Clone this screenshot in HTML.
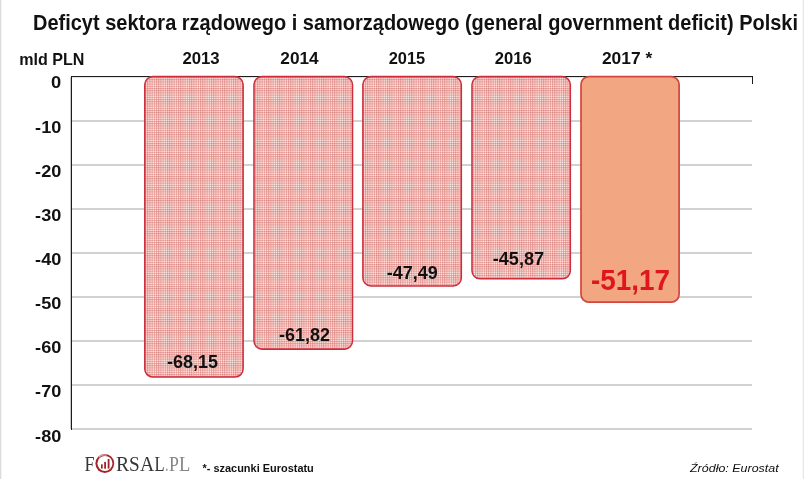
<!DOCTYPE html>
<html><head><meta charset="utf-8"><title>Deficyt</title><style>
html,body{margin:0;padding:0;background:#fff;}
body{width:805px;height:479px;overflow:hidden;}
svg{display:block;will-change:transform;}
text{font-family:"Liberation Sans",sans-serif;}
.serif{font-family:"Liberation Serif",serif;}
</style></head><body>
<svg width="805" height="479" viewBox="0 0 805 479">
<defs>
<pattern id="hatch" x="145" y="77" width="2.2" height="2.2" patternUnits="userSpaceOnUse">
<rect width="3" height="3" fill="#fff3ee"/>
<rect width="1.05" height="3" fill="#f0a5a0"/>
<rect width="3" height="1.05" fill="#f0a5a0"/>
<rect width="1.05" height="1.05" fill="#d68a87"/>
</pattern>
</defs>
<rect x="0" y="0" width="805" height="479" fill="#fff"/>
<rect x="0" y="0" width="1" height="479" fill="#dcdcdc"/>
<rect x="1" y="0" width="1" height="479" fill="#f3f3f3"/>
<rect x="803" y="0" width="1" height="479" fill="#e6e6e6"/>
<rect x="802" y="0" width="1" height="479" fill="#f7f7f7"/>

<!-- title -->
<text x="33" y="30.1" font-weight="bold" font-size="21.6" fill="#111" textLength="765" lengthAdjust="spacingAndGlyphs">Deficyt sektora rządowego i samorządowego (general government deficit) Polski</text>

<!-- unit + years -->
<text x="19.2" y="64.8" font-weight="bold" font-size="16.5" fill="#111" textLength="65.2" lengthAdjust="spacingAndGlyphs">mld PLN</text>
<g font-weight="bold" font-size="16.5" fill="#111">
<text x="182.4" y="63.7" textLength="37.3" lengthAdjust="spacingAndGlyphs">2013</text>
<text x="280.3" y="63.7" textLength="38.4" lengthAdjust="spacingAndGlyphs">2014</text>
<text x="388.7" y="63.7" textLength="36.5" lengthAdjust="spacingAndGlyphs">2015</text>
<text x="494.8" y="63.7" textLength="36.9" lengthAdjust="spacingAndGlyphs">2016</text>
<text x="601.9" y="63.7" textLength="50.3" lengthAdjust="spacingAndGlyphs">2017 *</text>
</g>

<!-- y labels -->
<g font-weight="bold" font-size="16.5" fill="#111" text-anchor="end">
<text x="61.2" y="88.2" textLength="10.2" lengthAdjust="spacingAndGlyphs">0</text>
<text x="61.3" y="132.5" textLength="26.2" lengthAdjust="spacingAndGlyphs">-10</text>
<text x="61.3" y="176.6" textLength="26.2" lengthAdjust="spacingAndGlyphs">-20</text>
<text x="61.3" y="220.7" textLength="26.2" lengthAdjust="spacingAndGlyphs">-30</text>
<text x="61.3" y="264.8" textLength="26.2" lengthAdjust="spacingAndGlyphs">-40</text>
<text x="61.3" y="308.9" textLength="26.2" lengthAdjust="spacingAndGlyphs">-50</text>
<text x="61.3" y="353.1" textLength="26.2" lengthAdjust="spacingAndGlyphs">-60</text>
<text x="61.3" y="397.3" textLength="26.2" lengthAdjust="spacingAndGlyphs">-70</text>
<text x="61.3" y="441.6" textLength="26.2" lengthAdjust="spacingAndGlyphs">-80</text>
</g>

<!-- gridlines -->
<g fill="#d2d2d2">
<rect x="72" y="120" width="680" height="2"/>
<rect x="72" y="164" width="680" height="2"/>
<rect x="72" y="208" width="680" height="2"/>
<rect x="72" y="252" width="680" height="2"/>
<rect x="72" y="296" width="680" height="2"/>
<rect x="72" y="340" width="680" height="2"/>
<rect x="72" y="384" width="680" height="2"/>
<rect x="72" y="428" width="680" height="2"/>
</g>
<!-- axes -->
<rect x="70" y="77" width="1" height="352" fill="#c8c8c8"/>
<rect x="72" y="77" width="680" height="1" fill="#e4e4e4"/>
<g fill="#1c1c1c">
<rect x="71" y="76" width="682" height="1"/>
<rect x="71" y="76" width="1" height="354"/>
<rect x="752" y="76" width="1" height="8"/>
</g>

<!-- bars -->
<g stroke="#cd2e3e" stroke-width="1.55">
<rect x="144.8" y="76.6" width="98.3" height="300.4" rx="8" fill="url(#hatch)"/>
<rect x="254" y="76.6" width="98.5" height="272.5" rx="8" fill="url(#hatch)"/>
<rect x="362.9" y="76.6" width="98.4" height="209.3" rx="8" fill="url(#hatch)"/>
<rect x="472" y="76.6" width="98.3" height="202.2" rx="8" fill="url(#hatch)"/>
</g>
<rect x="581" y="76.6" width="98.1" height="225.6" rx="8" fill="#f3a682" stroke="#d2463f" stroke-width="1.7"/>

<!-- bar labels -->
<g font-weight="bold" font-size="17.5" fill="#111">
<text x="167" y="367.8" textLength="51" lengthAdjust="spacingAndGlyphs">-68,15</text>
<text x="279" y="340.9" textLength="51" lengthAdjust="spacingAndGlyphs">-61,82</text>
<text x="386.8" y="278.7" textLength="51" lengthAdjust="spacingAndGlyphs">-47,49</text>
<text x="492.7" y="264.8" textLength="51.4" lengthAdjust="spacingAndGlyphs">-45,87</text>
</g>
<text x="591" y="290.3" font-weight="bold" font-size="28.6" fill="#e0161e" textLength="79" lengthAdjust="spacingAndGlyphs">-51,17</text>

<!-- footer -->
<text x="202.5" y="471.7" font-weight="bold" font-size="10.5" fill="#111" textLength="111.3" lengthAdjust="spacingAndGlyphs">*- szacunki Eurostatu</text>
<text x="690" y="471.6" font-style="italic" font-size="11.4" fill="#111" textLength="88.7" lengthAdjust="spacingAndGlyphs">Źródło: Eurostat</text>

<!-- logo -->
<g class="serif" font-size="20">
<text class="serif" x="84.4" y="471.3" fill="#353535" textLength="10.0" lengthAdjust="spacingAndGlyphs">F</text>
<text class="serif" x="116.1" y="471.3" fill="#353535" textLength="13.2" lengthAdjust="spacingAndGlyphs">R</text>
<text class="serif" x="129.0" y="471.3" fill="#353535" textLength="10.7" lengthAdjust="spacingAndGlyphs">S</text>
<text class="serif" x="139.9" y="471.3" fill="#353535" textLength="14.3" lengthAdjust="spacingAndGlyphs">A</text>
<text class="serif" x="154.5" y="471.3" fill="#353535" textLength="10.1" lengthAdjust="spacingAndGlyphs">L</text>
<text class="serif" x="165.4" y="471.3" fill="#858585" textLength="2.7" lengthAdjust="spacingAndGlyphs">.</text>
<text class="serif" x="169.0" y="471.3" fill="#858585" textLength="9.9" lengthAdjust="spacingAndGlyphs">P</text>
<text class="serif" x="179.0" y="471.3" fill="#858585" textLength="11.3" lengthAdjust="spacingAndGlyphs">L</text>
</g>
<circle cx="104.8" cy="463.5" r="9.4" fill="#a3262b"/>
<circle cx="104.95" cy="463.4" r="7.5" fill="#fff"/>
<path d="M98.6 457.3 A8.4 8.4 0 0 1 106.5 455.2" fill="none" stroke="#d9a0a2" stroke-width="1.4"/>
<g fill="#9e2227">
<rect x="101" y="464.3" width="1.7" height="4.3"/>
<rect x="104.2" y="461.9" width="1.8" height="6.8"/>
<rect x="107.7" y="459" width="1.8" height="9.6"/>
</g>
</svg>
</body></html>
